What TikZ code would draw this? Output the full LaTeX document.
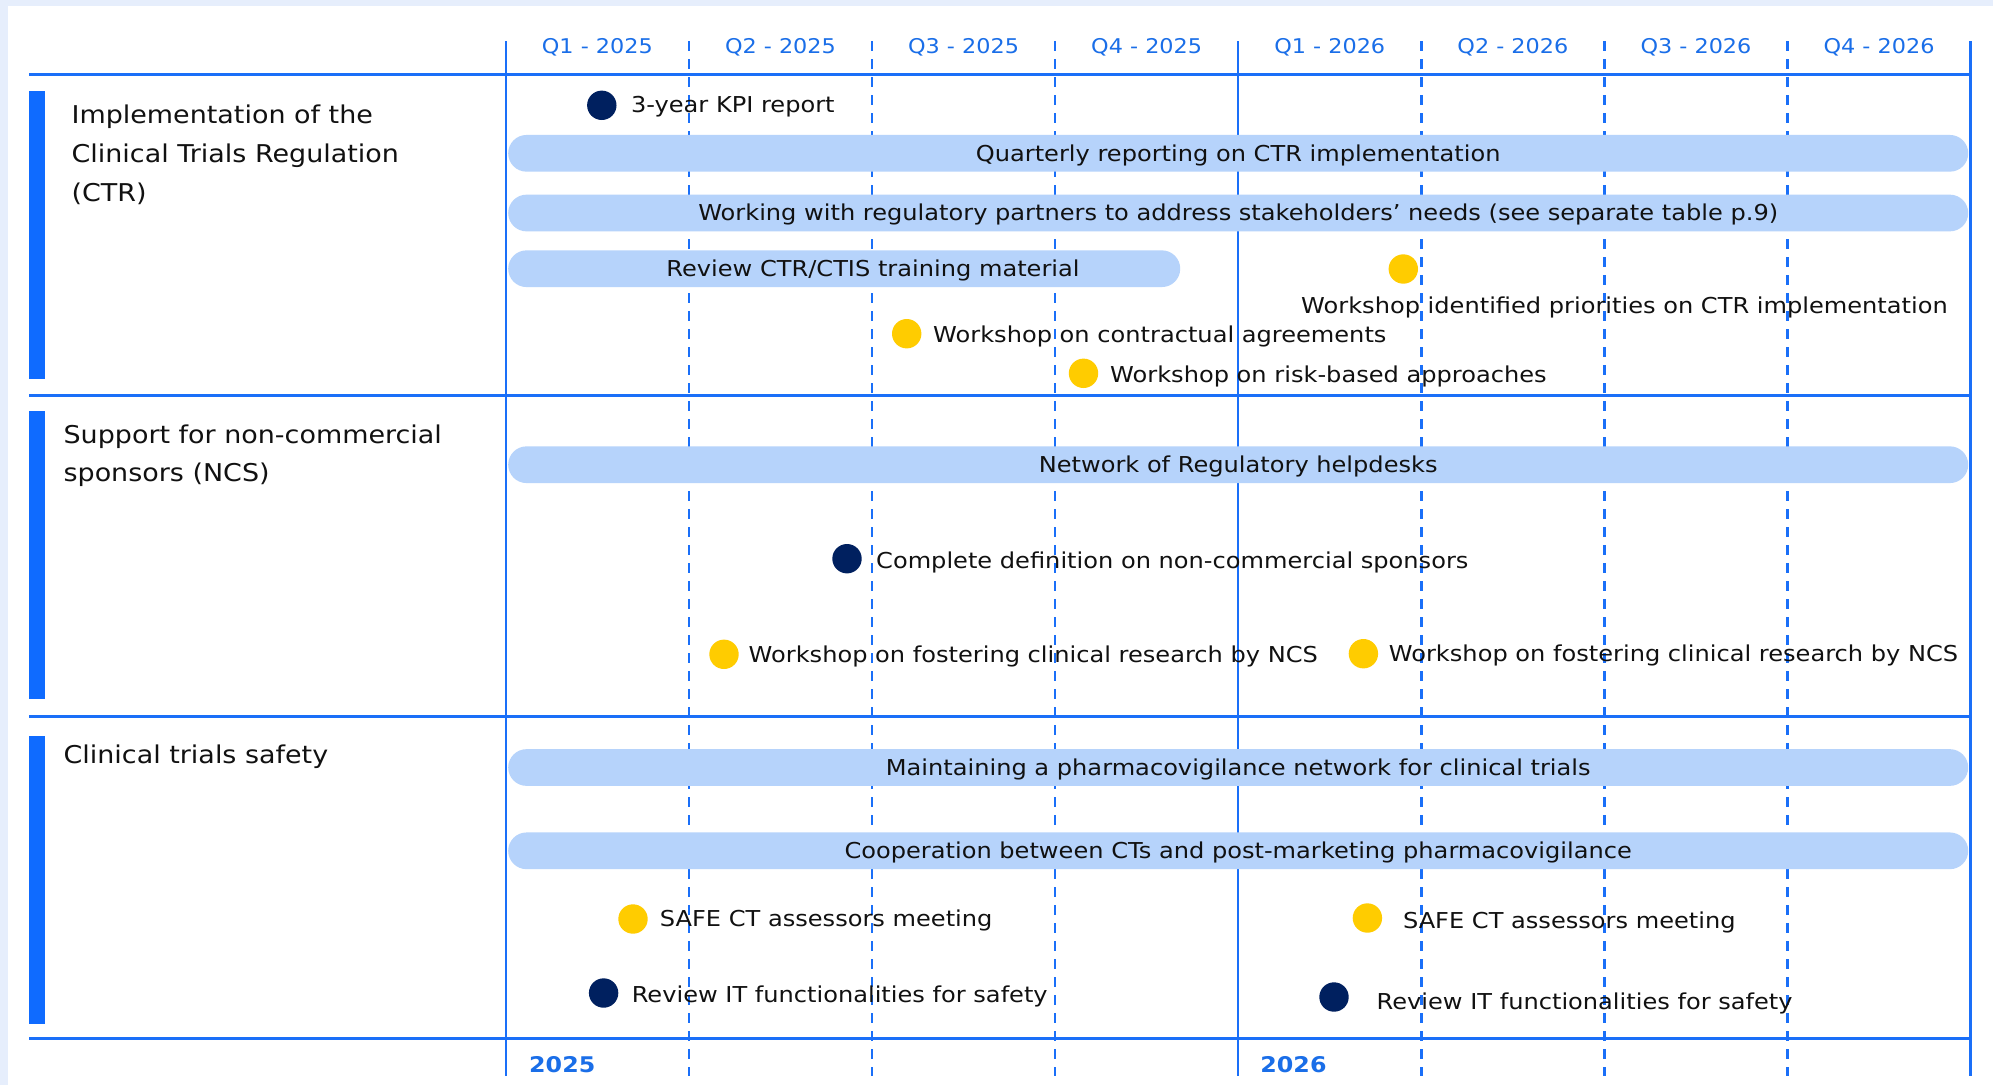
\documentclass[tikz,border=0pt]{standalone}
\usepackage{fontspec}
\setmainfont[FakeStretch=1.1]{DejaVu Sans}
\definecolor{framebg}{HTML}{E6EEFC}
\definecolor{lineblue}{HTML}{1A6FF8}
\definecolor{sidebar}{HTML}{0F6BFF}
\definecolor{headblue}{HTML}{1A6EE8}
\definecolor{barfill}{HTML}{B6D3FB}
\definecolor{navy}{HTML}{00205F}
\definecolor{gold}{HTML}{FFCC00}
\definecolor{ink}{HTML}{111111}
\newcommand{\itemfont}{\fontsize{21.9}{26}\selectfont}
\newcommand{\rowfont}{\fontsize{24.5}{29}\selectfont}
\newcommand{\headfont}{\fontsize{20.3}{24}\selectfont}
\newcommand{\yearfont}{\fontsize{21.6}{26}\selectfont\bfseries}
\tikzset{
  qline/.style={draw=lineblue, line width=2.4pt, dash pattern=on 10pt off 8pt},
  yline/.style={draw=lineblue, line width=2.5pt},
  hline/.style={draw=lineblue, line width=3pt},
  sidebox/.style={fill=sidebar},
  tbar/.style={fill=barfill, rounded corners=18.3pt, minimum height=36.7pt, inner sep=0pt,
    text height=15.96pt, text depth=0pt, font=\itemfont, text=ink, anchor=west},
  mdot/.style={circle, minimum size=29.4pt, inner sep=0pt},
  navydot/.style={mdot, fill=navy},
  golddot/.style={mdot, fill=gold},
  lbl/.style={anchor=west, inner sep=0pt, text height=15.96pt, text depth=0pt, font=\itemfont, text=ink},
  rowlbl/.style={anchor=west, inner sep=0pt, text height=17.86pt, text depth=0pt, font=\rowfont, text=ink},
  headlbl/.style={inner sep=0pt, text height=14.8pt, text depth=0pt, font=\headfont, text=headblue},
  yearlbl/.style={anchor=west, inner sep=0pt, text height=15.75pt, text depth=0pt, font=\yearfont, text=headblue},
}
\begin{document}
\begin{tikzpicture}[x=1pt,y=-1pt]
% background
\fill[framebg] (0,0) rectangle (1993,1085);
\fill[white] (8,6) rectangle (1993,1085);
\useasboundingbox (0,0) rectangle (1993,1085);

% quarter grid
\foreach \i in {1,2,3,5,6,7} {
  \draw[qline] ({505.8+183.1*\i},41) -- ({505.8+183.1*\i},1076);
}
\foreach \i in {0,4,8} {
  \draw[yline] ({505.8+183.1*\i},41) -- ({505.8+183.1*\i},1076);
}
% horizontal rules
\foreach \y in {74,395.5,716.8,1038.3} {
  \draw[hline] (29,\y) -- (1969,\y);
}
% side bars
\fill[sidebox] (29,91) rectangle (44.6,379);
\fill[sidebox] (29,411) rectangle (44.6,698.7);
\fill[sidebox] (29,736) rectangle (44.6,1023.7);

% header labels
\node[headlbl] (q1a) at ({505.8+183.1*0.5},46) {Q1 - 2025};
\node[headlbl] (q2a) at ({505.8+183.1*1.5},46) {Q2 - 2025};
\node[headlbl] (q3a) at ({505.8+183.1*2.5},46) {Q3 - 2025};
\node[headlbl] (q4a) at ({505.8+183.1*3.5},46) {Q4 - 2025};
\node[headlbl] (q1b) at ({505.8+183.1*4.5},46) {Q1 - 2026};
\node[headlbl] (q2b) at ({505.8+183.1*5.5},46) {Q2 - 2026};
\node[headlbl] (q3b) at ({505.8+183.1*6.5},46) {Q3 - 2026};
\node[headlbl] (q4b) at ({505.8+183.1*7.5},46) {Q4 - 2026};

% year labels
\node[yearlbl] (y25) at (529,1064.3) {2025};
\node[yearlbl] (y26) at (1260.2,1064.3) {2026};

% row labels
\node[rowlbl] (r1a) at (71.4,115) {Implementation of the};
\node[rowlbl] (r1b) at (71.4,153.6) {Clinical Trials Regulation};
\node[rowlbl] (r1c) at (71.4,192.2) {(CTR)};
\node[rowlbl] (r2a) at (63.4,435) {Support for non-commercial};
\node[rowlbl] (r2b) at (63.4,472.6) {sponsors (NCS)};
\node[rowlbl] (r3a) at (63.4,754.2) {Clinical trials safety};

% bars
\node[tbar, minimum width=1460pt] (b1) at (508,153.3) {Quarterly reporting on CTR implementation};
\node[tbar, minimum width=1460pt] (b2) at (508,213) {Working with regulatory partners to address stakeholders’ needs (see separate table p.9)};
\node[tbar, minimum width=672pt] (b3) at (508,268.7) {};
\node[lbl, anchor=center] (b3t) at (873,268.7) {Review CTR/CTIS training material};
\node[tbar, minimum width=1460pt] (b4) at (508,464.7) {Network of Regulatory helpdesks};
\node[tbar, minimum width=1460pt] (b5) at (508,767.5) {Maintaining a pharmacovigilance network for clinical trials};
\node[tbar, minimum width=1460pt] (b6) at (508,850.8) {Cooperation between CTs and post-marketing pharmacovigilance};

% milestones
\node[navydot] (m1) at (601.8,105.3) {};
\node[lbl] (m1t) at (630.8,104.2) {3-year KPI report};
\node[golddot] (m2) at (1403.3,269) {};
\node[lbl] (m2t) at (1301,305.7) {Workshop identified priorities on CTR implementation};
\node[golddot] (m3) at (906.7,333.7) {};
\node[lbl] (m3t) at (933,335) {Workshop on contractual agreements};
\node[golddot] (m4) at (1083.5,373.3) {};
\node[lbl] (m4t) at (1110,375) {Workshop on risk-based approaches};
\node[navydot] (m5) at (847,558.7) {};
\node[lbl] (m5t) at (876,560.5) {Complete definition on non-commercial sponsors};
\node[golddot] (m6) at (724,654.3) {};
\node[lbl] (m6t) at (748.5,655) {Workshop on fostering clinical research by NCS};
\node[golddot] (m7) at (1363.4,653.7) {};
\node[lbl] (m7t) at (1388.7,654) {Workshop on fostering clinical research by NCS};
\node[golddot] (m8) at (633,919) {};
\node[lbl] (m8t) at (659.7,918.7) {SAFE CT assessors meeting};
\node[golddot] (m9) at (1367.4,918) {};
\node[lbl] (m9t) at (1402.8,920.8) {SAFE CT assessors meeting};
\node[navydot] (m10) at (603.6,993) {};
\node[lbl] (m10t) at (631.6,994.5) {Review IT functionalities for safety};
\node[navydot] (m11) at (1334,997) {};
\node[lbl] (m11t) at (1376.5,1001.3) {Review IT functionalities for safety};
\end{tikzpicture}
\end{document}
